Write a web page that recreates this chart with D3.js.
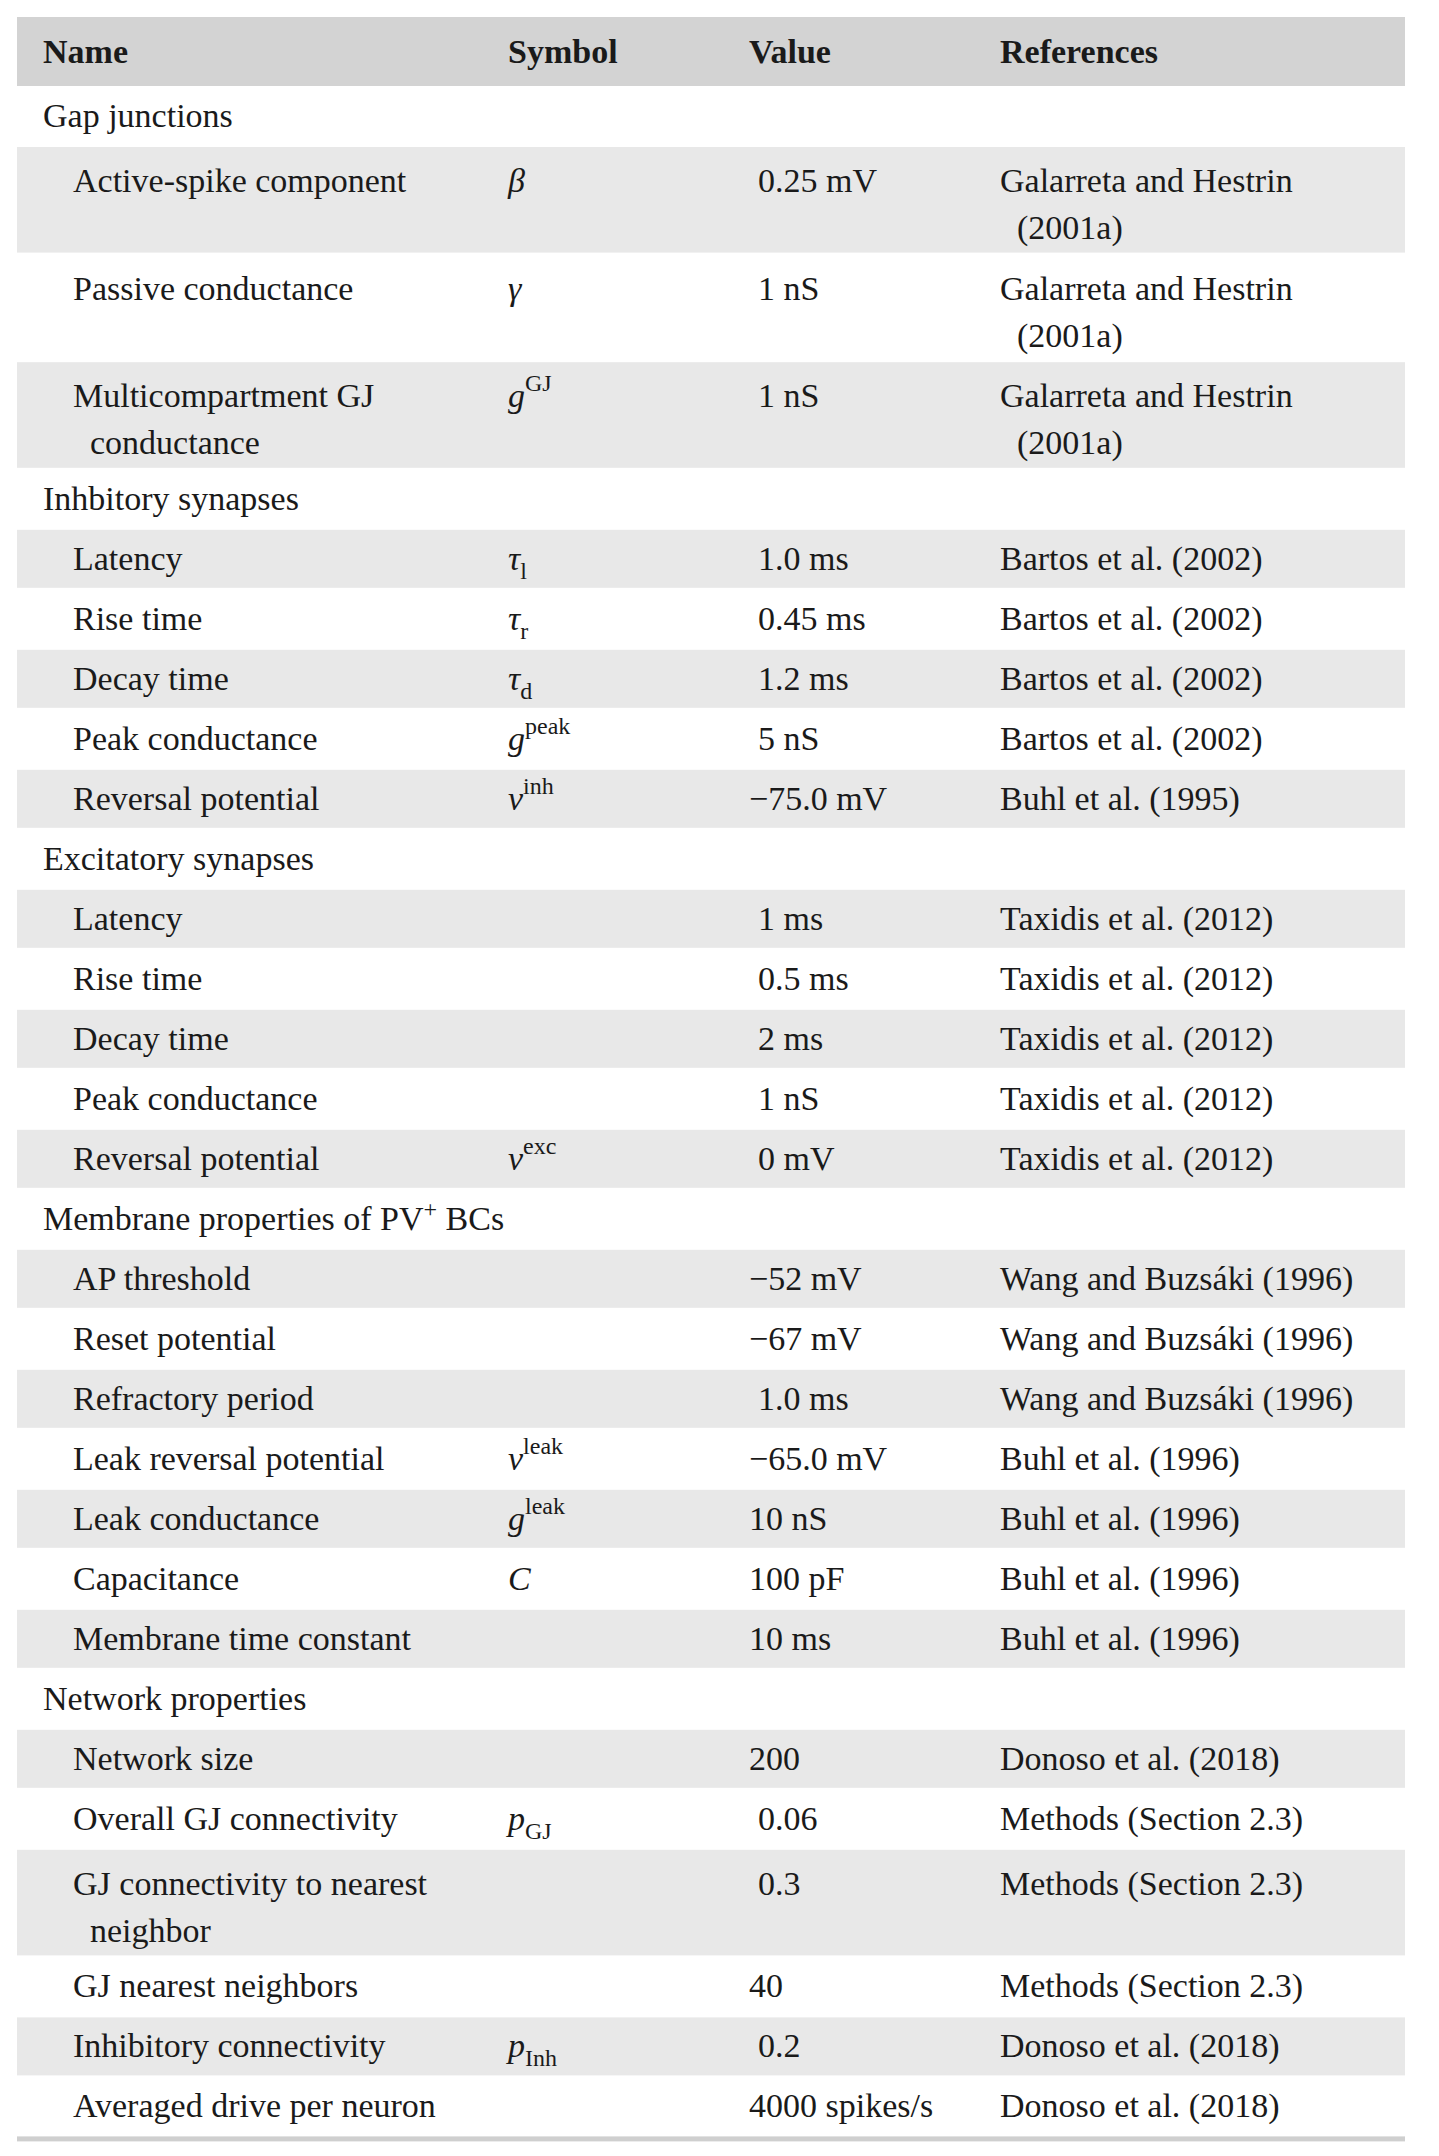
<!DOCTYPE html>
<html>
<head>
<meta charset="utf-8">
<script src="https://cdn.jsdelivr.net/npm/d3@7"></script>
<style>
  body { margin: 0; background: #fff; }
  text { font-family: "Liberation Serif", "DejaVu Serif", serif; font-size: 34px; fill: #1a1a1a; }
  .head { font-weight: bold; }
  .sym { font-style: italic; }
</style>
</head>
<body>
<div id="table"></div>
<script>
// Table contents
var headers = ["Name", "Symbol", "Value", "References"];

var sections = [
    "Gap junctions",
    "Inhbitory synapses",
    "Excitatory synapses",
    "Membrane properties of PV|+| BCs",
    "Network properties"
];

var groupSizes = [3, 5, 5, 7, 6];

var rowNames = [
    "Active-spike component", "Passive conductance", "Multicompartment GJ\nconductance",
    "Latency", "Rise time", "Decay time", "Peak conductance", "Reversal potential",
    "Latency", "Rise time", "Decay time", "Peak conductance", "Reversal potential",
    "AP threshold", "Reset potential", "Refractory period", "Leak reversal potential",
    "Leak conductance", "Capacitance", "Membrane time constant",
    "Network size", "Overall GJ connectivity", "GJ connectivity to nearest\nneighbor",
    "GJ nearest neighbors", "Inhibitory connectivity", "Averaged drive per neuron"
];

// [base, subscript, superscript]
var rowSymbols = [
    ["β", "", ""], ["γ", "", ""], ["g", "", "GJ"],
    ["τ", "l", ""], ["τ", "r", ""], ["τ", "d", ""], ["g", "", "peak"], ["v", "", "inh"],
    null, null, null, null, ["v", "", "exc"],
    null, null, null, ["v", "", "leak"], ["g", "", "leak"], ["C", "", ""], null,
    null, ["p", "GJ", ""], null, null, ["p", "Inh", ""], null
];

var rowValues = [
    "0.25 mV", "1 nS", "1 nS",
    "1.0 ms", "0.45 ms", "1.2 ms", "5 nS", "−75.0 mV",
    "1 ms", "0.5 ms", "2 ms", "1 nS", "0 mV",
    "−52 mV", "−67 mV", "1.0 ms", "−65.0 mV", "10 nS", "100 pF", "10 ms",
    "200", "0.06", "0.3", "40", "0.2", "4000 spikes/s"
];

var rowRefs = [
    "Galarreta and Hestrin\n(2001a)", "Galarreta and Hestrin\n(2001a)", "Galarreta and Hestrin\n(2001a)",
    "Bartos et al. (2002)", "Bartos et al. (2002)", "Bartos et al. (2002)", "Bartos et al. (2002)", "Buhl et al. (1995)",
    "Taxidis et al. (2012)", "Taxidis et al. (2012)", "Taxidis et al. (2012)", "Taxidis et al. (2012)", "Taxidis et al. (2012)",
    "Wang and Buzsáki (1996)", "Wang and Buzsáki (1996)", "Wang and Buzsáki (1996)", "Buhl et al. (1996)",
    "Buhl et al. (1996)", "Buhl et al. (1996)", "Buhl et al. (1996)",
    "Donoso et al. (2018)", "Methods (Section 2.3)", "Methods (Section 2.3)",
    "Methods (Section 2.3)", "Donoso et al. (2018)", "Donoso et al. (2018)"
];

var svgWidth = 1439;
var svgHeight = 2156;
var left = 17, right = 1405;
var top0 = 17, headH = 69;
var lineH = 60.0, extraLine = 47.6;

var svg = d3.select("#table").append("svg")
    .attr("width", svgWidth)
    .attr("height", svgHeight);

var colX = d3.scaleOrdinal()
    .domain(["section", "name", "symbol", "value", "ref"])
    .range([43, 73, 508, 749, 1000]);

// Build the row list
var rows = [];
var k = 0;
sections.forEach(function(s, i) {
    rows.push({ type: "section", text: s, lines: 1 });
    for (var j = 0; j < groupSizes[i]; j++) {
        var n = rowNames[k].split("\n"), r = rowRefs[k].split("\n");
        rows.push({
            type: "row", name: n, sym: rowSymbols[k], value: rowValues[k], ref: r,
            lines: Math.max(n.length, r.length), shade: j % 2 === 0
        });
        k++;
    }
});

var y = top0 + headH;
rows.forEach(function(d) {
    d.y = y;
    d.h = lineH + (d.lines - 1) * extraLine;
    y += d.h;
});
var bottom = y;

// Header
svg.append("rect").attr("x", left).attr("y", top0).attr("width", right - left).attr("height", headH)
    .attr("fill", "#d3d3d3");
var headCols = ["section", "symbol", "value", "ref"];
headers.forEach(function(h, i) {
    svg.append("text").attr("class", "head")
        .attr("x", colX(headCols[i])).attr("y", top0 + headH / 2 + 11).text(h);
});

var g = svg.selectAll("g.row").data(rows).enter().append("g")
    .attr("class", "row")
    .attr("transform", d => `translate(0, ${d.y})`);

g.filter(d => d.shade).append("rect")
    .attr("x", left).attr("width", right - left)
    .attr("height", d => d.h - 2)
    .attr("y", 1)
    .attr("fill", "#e8e8e8");

// Sections
g.filter(d => d.type === "section").each(function(d) {
    var t = d3.select(this).append("text").attr("x", colX("section")).attr("y", d.h / 2 + 11);
    d.text.split("|").forEach(function(p, i) {
        var ts = t.append("tspan").text(p);
        if (i === 1) ts.attr("dy", -13).attr("font-size", 24);
        if (i === 2) ts.attr("dy", 13);
    });
});

function lineY(d, i) {
    return d.lines === 1 ? d.h / 2 + 11 : 46 + i * 47;
}

var dr = g.filter(d => d.type === "row");

dr.each(function(d) {
    var sel = d3.select(this);
    d.name.forEach(function(n, i) {
        sel.append("text").attr("x", colX("name") + (i > 0 ? 17 : 0)).attr("y", lineY(d, i)).text(n);
    });
    d.ref.forEach(function(r, i) {
        sel.append("text").attr("x", colX("ref") + (i > 0 ? 17 : 0)).attr("y", lineY(d, i)).text(r);
    });
    var shift = /^\d[ .]/.test(d.value) || /^\d$/.test(d.value) ? 9 : 0;
    sel.append("text").attr("x", colX("value") + shift).attr("y", lineY(d, 0)).text(d.value);
    if (d.sym) {
        var t = sel.append("text").attr("class", "sym").attr("x", colX("symbol")).attr("y", lineY(d, 0));
        t.append("tspan").text(d.sym[0]);
        if (d.sym[1]) t.append("tspan").attr("dy", 9).attr("font-size", 24).attr("font-style", "normal").text(d.sym[1]);
        if (d.sym[2]) t.append("tspan").attr("dy", -16).attr("font-size", 24).attr("font-style", "normal").text(d.sym[2]);
    }
});

// Bottom rule
svg.append("rect").attr("x", left).attr("y", bottom).attr("width", right - left).attr("height", 5)
    .attr("fill", "#cfcfcf");
</script>
</body>
</html>
